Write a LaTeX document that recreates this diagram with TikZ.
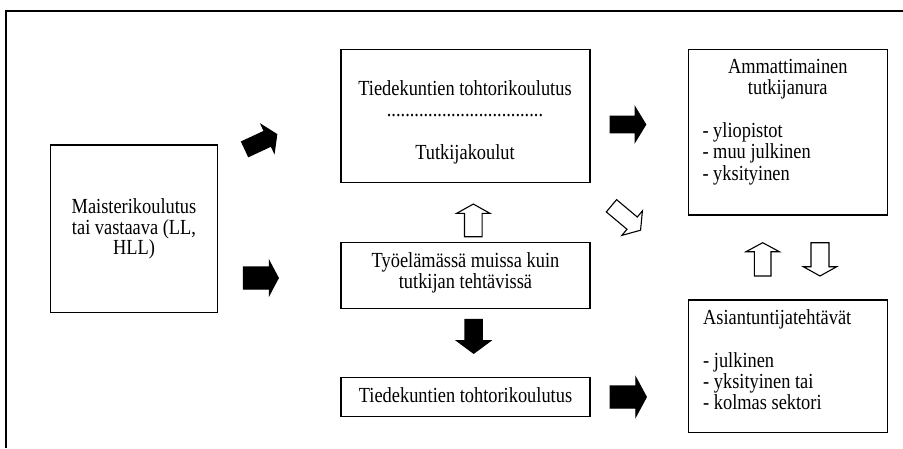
\documentclass[tikz,border=0pt]{standalone}
\usepackage{fontspec}
\setmainfont{Liberation Serif}[FakeStretch=0.855]
\tikzset{
  boxnode/.style={draw, line width=1.5pt, inner sep=0pt, fill=white},
  txt/.style={font=\fontsize{21.5}{21.3}\selectfont, inner sep=0pt, anchor=north, align=center},
  lst/.style={txt, anchor=north west, align=left},
  arrline/.style={line width=1.1pt, line join=miter},
  frameline/.style={line width=2pt}
}
% block arrow: x, y, angle, length, shaft half width, head half width, head length, fill
\newcommand{\blockarr}[8]{%
  \begin{scope}[shift={(#1,#2)},rotate=#3]
    \draw[arrline,fill=#8] ({-#4/2},{-#5}) -- ({#4/2-#7},{-#5}) -- ({#4/2-#7},{-#6})
      -- ({#4/2},0) -- ({#4/2-#7},{#6}) -- ({#4/2-#7},{#5}) -- ({-#4/2},{#5}) -- cycle;
  \end{scope}}
\begin{document}
\begin{tikzpicture}[x=1pt,y=-1pt]
  \fill[white] (0,0) rectangle (903,448);
  \useasboundingbox (0,0) rectangle (903,448);
  % outer frame (only top and left edges visible)
  \draw[frameline] (6,448) -- (6,11) -- (903,11);

  % boxes
  \node[boxnode, minimum width=166.6pt, minimum height=167.7pt] (mbox) at (134,228.85) {};
  \node[boxnode, minimum width=249pt, minimum height=133.4pt] (tbox) at (465.5,116) {};
  \node[boxnode, minimum width=249pt, minimum height=66pt] (wbox) at (465.5,275.7) {};
  \node[boxnode, minimum width=249pt, minimum height=39.2pt] (dbox) at (465.5,397.1) {};
  \node[boxnode, minimum width=199pt, minimum height=165.9pt] (rbox) at (787.8,132.25) {};
  \node[boxnode, minimum width=199pt, minimum height=132.7pt] (ebox) at (787.8,366.35) {};

  % texts
  \node[txt, font=\fontsize{21.5}{20.3}\selectfont] (mtext) at (134,198.6)
    {Maisterikoulutus\\tai vastaava (LL,\\HLL)};
  \node[txt, font=\fontsize{21.5}{21.5}\selectfont] (ttext) at (465,80.3)
    {Tiedekuntien tohtorikoulutus\\..................................\\[21.5pt]Tutkijakoulut};
  \node[txt] (wtext) at (465.5,252) {Työelämässä muissa kuin\\tutkijan tehtävissä};
  \node[txt] (dtext) at (465.5,387) {Tiedekuntien tohtorikoulutus};
  \node[txt] (rhead) at (787.8,58.6) {Ammattimainen\\tutkijanura};
  \node[lst] (rlist) at (702.3,122.3) {- yliopistot\\- muu julkinen\\- yksityinen};
  \node[lst] (etext) at (703,309.3)
    {Asiantuntijatehtävät\\[21.3pt]- julkinen\\- yksityinen tai\\- kolmas sektori};

  % block arrows
  \blockarr{260.9}{141.8}{25}{35}{8.2}{15.5}{10}{black}
  \blockarr{260.8}{278}{0}{35}{11}{17}{9}{black}
  \blockarr{627.9}{124.5}{0}{35.7}{8.3}{17.5}{10.7}{black}
  \blockarr{626}{218}{-40}{38}{8}{16}{11}{white}
  \blockarr{473.3}{220.4}{90}{32.7}{8.8}{16.7}{9.3}{white}
  \blockarr{473.7}{336.3}{-90}{34}{8.7}{17}{12.6}{black}
  \blockarr{628.2}{397}{0}{36.3}{11}{19.5}{10.5}{black}
  \blockarr{762.7}{259.35}{90}{33.3}{8.3}{16.7}{9}{white}
  \blockarr{820}{259.35}{-90}{33.3}{9}{16.7}{9.3}{white}
\end{tikzpicture}
\end{document}
